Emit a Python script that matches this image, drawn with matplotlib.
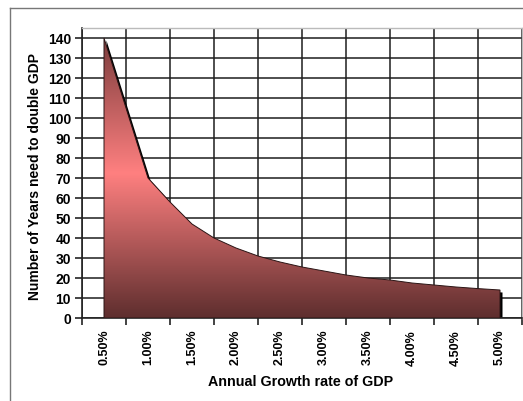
import numpy as np
import matplotlib
matplotlib.use("Agg")
import matplotlib.pyplot as plt
from matplotlib.colors import LinearSegmentedColormap
from matplotlib.patches import Polygon
from matplotlib.lines import Line2D
import matplotlib.transforms as mtransforms

growth_rates = ["0.50%", "0.75%", "1.00%", "1.25%", "1.50%", "1.75%", "2.00%", "2.25%",
                "2.50%", "2.75%", "3.00%", "3.25%", "3.50%", "3.75%", "4.00%", "4.25%",
                "4.50%", "4.75%", "5.00%"]
years_to_double = [140, 105, 70, 58, 47, 40, 35, 31, 28, 25.5, 23.5, 21.5, 20, 19,
                   17.5, 16.5, 15.5, 14.7, 14]
y_ticks = list(range(0, 141, 10))

plt.rcParams['font.family'] = ['Liberation Sans', 'DejaVu Sans']

fig = plt.figure(figsize=(5.23, 4.01), dpi=100)
ax = fig.add_axes([82/523, 1-318/401, 440/523, 290/401])

x = np.arange(len(growth_rates))
y = np.array(years_to_double)
ymax = 145
ax.set_xlim(-1, len(growth_rates))
ax.set_ylim(0, ymax)

verts = [(x[0], 0)] + list(zip(x, y)) + [(x[-1], 0)]

# shadow
shadow_tr = ax.transData + mtransforms.ScaledTranslation(2.5/100, -2.5/100, fig.dpi_scale_trans)
shadow = Polygon(verts, closed=True, facecolor='black', edgecolor='none', transform=shadow_tr, zorder=2)
ax.add_patch(shadow)

poly = Polygon(verts, closed=True, facecolor='none', edgecolor='#2a1515', linewidth=0.7, zorder=4)
ax.add_patch(poly)

cmap = LinearSegmentedColormap.from_list('g', [(0, '#5e2e2e'), (0.5, '#ff8080'), (1.0, '#723838')])
grad = np.linspace(0, 1, 256).reshape(-1, 1)
im = ax.imshow(grad, cmap=cmap, aspect='auto', origin='lower',
               extent=(-1, len(growth_rates), 0, ymax), zorder=3)
im.set_clip_path(poly)

# grid
ax.set_yticks(y_ticks)
ax.set_yticklabels([str(v) for v in y_ticks], fontweight='bold', fontsize=10)
ax.set_xticks(np.arange(-1, len(growth_rates) + 1, 2))
ax.set_xticklabels([])
ax.set_xticks(x[::2], minor=True)
ax.set_xticklabels(growth_rates[::2], minor=True, rotation=90, fontweight='bold', fontsize=9)
ax.tick_params(axis='x', which='minor', length=0, pad=8.5)
ax.tick_params(axis='x', which='major', length=5, width=1.2, color='#222222', direction='out')
ax.tick_params(axis='y', length=5, width=1.2, color='#222222', direction='out', pad=3)
ax.grid(True, which='major', color='#1e1e1e', linewidth=1.1, zorder=1)
ax.set_axisbelow(True)

for s in ['top', 'right']:
    ax.spines[s].set_color('#bbbbbb')
    ax.spines[s].set_linewidth(1.0)
for s in ['left', 'bottom']:
    ax.spines[s].set_color('#222222')
    ax.spines[s].set_linewidth(1.2)

ax.set_xlabel('Annual Growth rate of GDP', fontweight='bold', fontsize=10.3, va='center')
ax.set_ylabel('Number of Years need to double GDP', fontweight='bold', fontsize=10, va='center')
ax.xaxis.set_label_coords((301 - 82) / 440, (318 - 382) / 290)
ax.yaxis.set_label_coords((35 - 82) / 440, (318 - 176) / 290)

# outer chart frame
fig.add_artist(Line2D([10/523, 10/523], [0, 1-8/401], transform=fig.transFigure, color='#777777', linewidth=1.0))
fig.add_artist(Line2D([10/523, 1], [1-8/401, 1-8/401], transform=fig.transFigure, color='#777777', linewidth=1.0))

fig.savefig('out.png', dpi=100)
